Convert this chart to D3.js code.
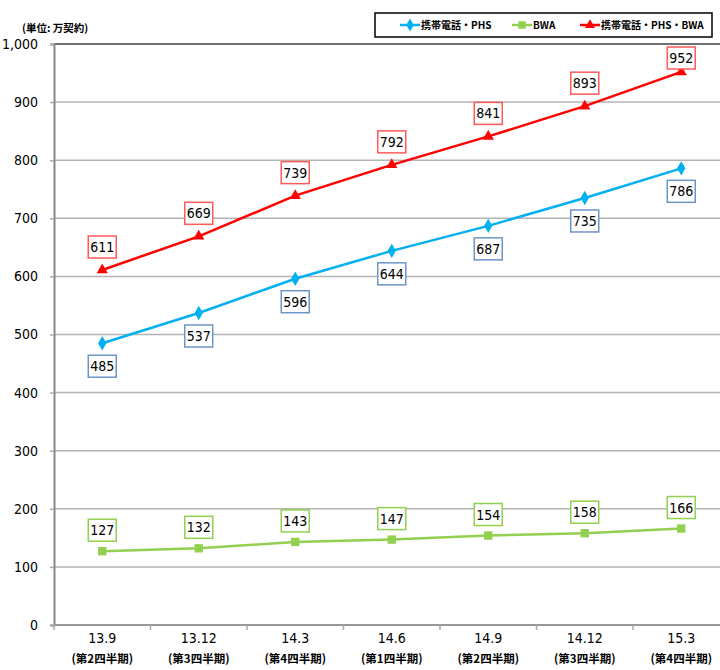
<!DOCTYPE html>
<html><head><meta charset="utf-8">
<script src="https://cdn.jsdelivr.net/npm/d3@7"></script>
<style>
body{margin:0;background:#fff;}
svg{display:block;}
text{font-family:"Liberation Sans Narrow","DejaVu Sans Condensed","Noto Sans CJK JP",sans-serif;fill:#000;}
.jp{font-family:"Noto Sans CJK JP",sans-serif;}
</style></head>
<body><svg id="c" width="720" height="670"></svg>
<script>
const categories = ["13.9","13.12","14.3","14.6","14.9","14.12","15.3"];
const quarters = ["(第2四半期)","(第3四半期)","(第4四半期)","(第1四半期)","(第2四半期)","(第3四半期)","(第4四半期)"];
const mobile = [485,537,596,644,687,735,786];
const bwa = [127,132,143,147,154,158,166];
const total = [611,669,739,792,841,893,952];
const yTicks = [0,100,200,300,400,500,600,700,800,900,1000];
const seriesNames = ["携帯電話・PHS","BWA","携帯電話・PHS・BWA"];

const svg = d3.select("#c");
const padL = 54, padT = 44, padB = 625, step = 96.5;
const x = d3.scaleBand().domain(categories).range([padL, padL + step*categories.length]).padding(0);
const y = d3.scaleLinear().domain([0,1000]).range([padB, padT]);
const cx = c => x(c) + x.bandwidth()/2;

// gridlines
svg.append("g").selectAll("line").data(yTicks.filter(v=>v>0)).join("line")
  .attr("x1", padL).attr("x2", 720).attr("y1", d=>y(d)).attr("y2", d=>y(d))
  .attr("stroke", d=> d===1000 ? "#707070" : "#b4b4b4").attr("stroke-width", d=> d===1000 ? 2 : 1.5);

// y axis
const ya = svg.append("g").attr("transform",`translate(${padL},0)`)
  .call(d3.axisLeft(y).tickValues(yTicks).tickFormat(d3.format(",")).tickSize(4).tickPadding(12));
ya.select(".domain").attr("stroke","#888").attr("stroke-width",2);
ya.selectAll(".tick line").attr("stroke","#aaa").attr("stroke-width",1.5);
ya.selectAll(".tick text").attr("font-size",14).attr("font-family","'Liberation Sans Narrow','DejaVu Sans Condensed',sans-serif");

// x axis
const xa = svg.append("g").attr("transform",`translate(0,${padB})`);
xa.append("line").attr("x1",padL).attr("x2",720).attr("y1",0).attr("y2",0).attr("stroke","#999").attr("stroke-width",2);
xa.selectAll("line.t").data(categories.map(c=>x(c)+x.bandwidth()).concat([padL])).join("line").attr("class","t")
  .attr("x1",d=>d).attr("x2",d=>d).attr("y1",0).attr("y2",5).attr("stroke","#aaa").attr("stroke-width",1.5);
xa.selectAll("text.c").data(categories).join("text").attr("class","c")
  .attr("x",d=>cx(d)).attr("y",18).attr("text-anchor","middle").attr("font-size",14).text(d=>d);
xa.selectAll("text.q").data(categories).join("text").attr("class","q jp")
  .attr("x",d=>cx(d)).attr("y",38).attr("text-anchor","middle").attr("font-size",11.5).attr("font-weight","bold").text((d,i)=>quarters[i]);

// unit label
svg.append("text").attr("class","jp").attr("x",22).attr("y",32).attr("font-size",10.5).attr("font-weight","bold").text("(単位: 万契約)");

const series = [
  {vals: mobile, color:"#00b0f0", box:"#6d95c8", sym:d3.symbolDiamond, size:60, dy: 23},
  {vals: bwa, color:"#92d050", box:"#92d050", sym:d3.symbolSquare, size:70, dy:-21},
  {vals: total, color:"#ff0000", box:"#ff5a5a", sym:d3.symbolTriangle, size:55, dy:-23}
];

const line = d3.line().x((d,i)=>cx(categories[i])).y(d=>y(d));
series.forEach(s=>{
  svg.append("path").datum(s.vals).attr("d",line).attr("fill","none").attr("stroke",s.color).attr("stroke-width",2.5);
  svg.append("g").selectAll("path").data(s.vals).join("path")
    .attr("transform",(d,i)=>`translate(${cx(categories[i])},${y(d)})`)
    .attr("d",d3.symbol().type(s.sym).size(s.size)).attr("fill",s.color);
  const g = svg.append("g").selectAll("g").data(s.vals).join("g")
    .attr("transform",(d,i)=>{
      let yy = y(d)+s.dy;
      if (yy - 11 < padT + 3) yy = padT + 3 + 11;
      return `translate(${cx(categories[i])},${yy})`;
    });
  g.append("rect").attr("x",-14).attr("y",-11).attr("width",28).attr("height",22)
    .attr("fill","#fff").attr("stroke",s.box).attr("stroke-width",1.5);
  g.append("text").attr("text-anchor","middle").attr("dy","0.36em").attr("font-size",14).text(d=>d);
});

// legend
const lg = svg.append("g");
lg.append("rect").attr("x",375).attr("y",13).attr("width",337).attr("height",24).attr("fill","#fff").attr("stroke","#000").attr("stroke-width",1.5);
const legX = [400,512,580];
series.forEach((s,i)=>{
  const gx = legX[i], gy = 25;
  lg.append("line").attr("x1",gx).attr("x2",gx+20).attr("y1",gy).attr("y2",gy).attr("stroke",s.color).attr("stroke-width",2.5);
  lg.append("path").attr("transform",`translate(${gx+10},${gy})`).attr("d",d3.symbol().type(s.sym).size(s.size*0.8)).attr("fill",s.color);
  lg.append("text").attr("class","jp").attr("x",gx+21).attr("y",gy).attr("dy","0.35em").attr("font-size",10).attr("font-weight","bold").text(seriesNames[i]);
});
</script></body></html>
